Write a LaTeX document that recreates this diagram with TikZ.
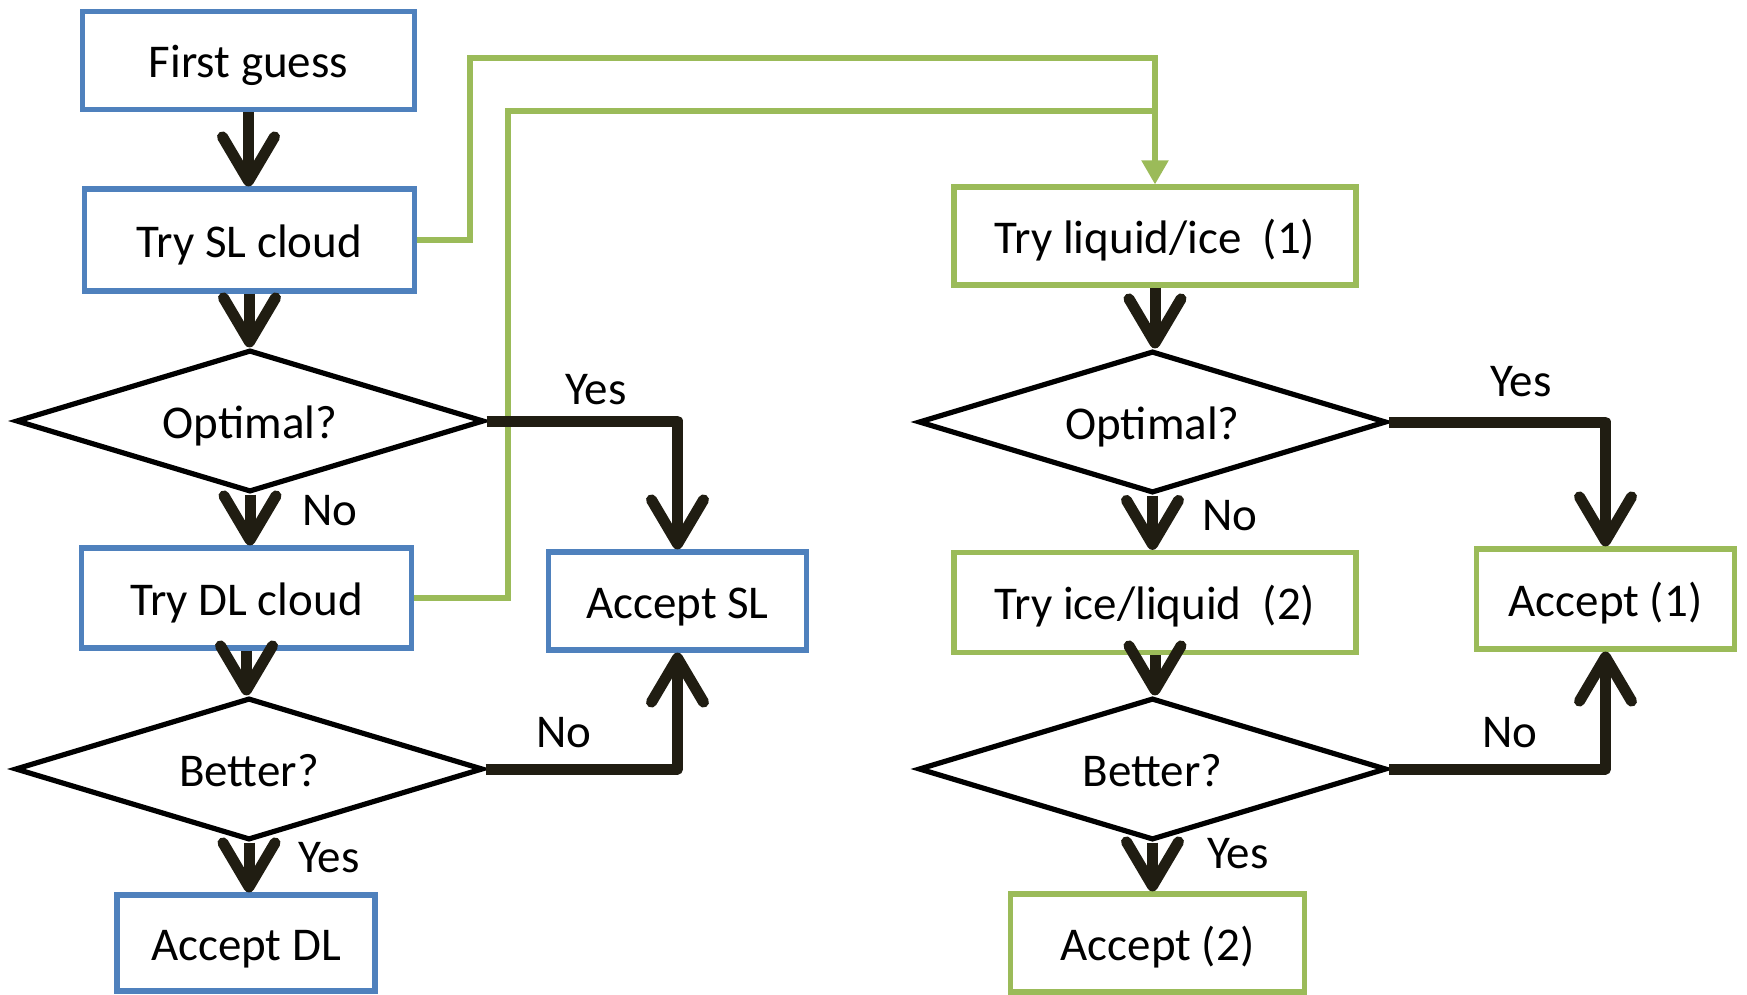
\documentclass[tikz,border=0pt]{standalone}
\usepackage{fontspec}
\setmainfont{Carlito}
\usetikzlibrary{shapes.geometric,arrows.meta}
\definecolor{boxblue}{RGB}{79,129,189}
\definecolor{boxgreen}{RGB}{155,187,89}
\definecolor{arrowdark}{RGB}{32,29,18}
\begin{document}
\begin{tikzpicture}[x=0.5pt,y=-0.5pt,
  every node/.style={font=\fontsize{23.5}{28}\selectfont, text height=17pt, text depth=0pt},
  bluebox/.style={draw=boxblue, line width=2.6pt, rectangle, inner sep=0pt},
  greenbox/.style={draw=boxgreen, line width=2.6pt, rectangle, inner sep=0pt},
  decision/.style={draw=black, line width=2.6pt, diamond, aspect=3.3, inner sep=0pt, minimum width=234pt, minimum height=71pt},
  flow/.style={draw=arrowdark, line width=5.5pt, line join=round, -{Straight Barb[length=22pt, width=26pt, round]}},
  link/.style={draw=boxgreen, line width=2.6pt},
  linkarrow/.style={link, -{Triangle[length=12pt, width=13pt]}},
  lbl/.style={inner sep=0pt}
]
\useasboundingbox (0,0) rectangle (1747,995);
% left column
\node[bluebox, minimum width=166pt, minimum height=49pt] (first) at (248.5,60.5) {First guess};
\node[bluebox, minimum width=165pt, minimum height=51pt] (trysl) at (249.5,240) {Try SL cloud};
\node[decision] (optL) at (250,421) {Optimal?};
\node[bluebox, minimum width=165pt, minimum height=50pt] (trydl) at (246.5,598) {Try DL cloud};
\node[bluebox, minimum width=129pt, minimum height=49pt] (accsl) at (677.5,601) {Accept SL};
\node[decision] (betL) at (249,769) {Better?};
\node[bluebox, minimum width=129pt, minimum height=48pt] (accdl) at (246,943) {Accept DL};
% right column
\node[greenbox, minimum width=201pt, minimum height=49pt] (tryliq) at (1155,236) {Try liquid/ice\ \ (1)};
\node[decision] (optR) at (1152.5,422) {Optimal?};
\node[greenbox, minimum width=201pt, minimum height=50pt] (tryice) at (1155,602.5) {Try ice/liquid\ \ (2)};
\node[greenbox, minimum width=129pt, minimum height=50pt] (acc1) at (1605.5,599) {Accept (1)};
\node[decision] (betR) at (1152.5,769) {Better?};
\node[greenbox, minimum width=147pt, minimum height=49pt] (acc2) at (1157.5,943) {Accept (2)};
% labels
\node[lbl] (yesL1) at (596,387) {Yes};
\node[lbl] (noL1) at (330,508) {No};
\node[lbl] (noL2) at (564,730) {No};
\node[lbl] (yesL2) at (329,855) {Yes};
\node[lbl] (yesR1) at (1521,379) {Yes};
\node[lbl] (noR1) at (1230,513) {No};
\node[lbl] (noR2) at (1510,730) {No};
\node[lbl] (yesR2) at (1238,851) {Yes};
% green links
\coordinate (g1) at (470,58);
\coordinate (g2) at (508,111);
\draw[linkarrow] (trysl.east) -| (g1) -| (tryliq.north);
\draw[link] (trydl.east) -| (g2) -- (g2 -| tryliq.north);
% black flow arrows, left
\draw[flow] (first.south) -- (first.south |- trysl.north);
\draw[flow] (trysl.south) -- (trysl.south |- optL.north);
\draw[flow] (optL.south) -- (optL.south |- trydl.north);
\draw[flow] (trydl.south) -- (trydl.south |- betL.north);
\draw[flow] (betL.south) -- (betL.south |- accdl.north);
\draw[flow] (optL.east) -| (accsl.north);
\draw[flow] (betL.east) -| (accsl.south);
% black flow arrows, right
\draw[flow] (tryliq.south) -- (tryliq.south |- optR.north);
\draw[flow] (optR.south) -- (optR.south |- tryice.north);
\draw[flow] (tryice.south) -- (tryice.south |- betR.north);
\draw[flow] (betR.south) -- (betR.south |- acc2.north);
\draw[flow] (optR.east) -| (acc1.north);
\draw[flow] (betR.east) -| (acc1.south);
\end{tikzpicture}
\end{document}
